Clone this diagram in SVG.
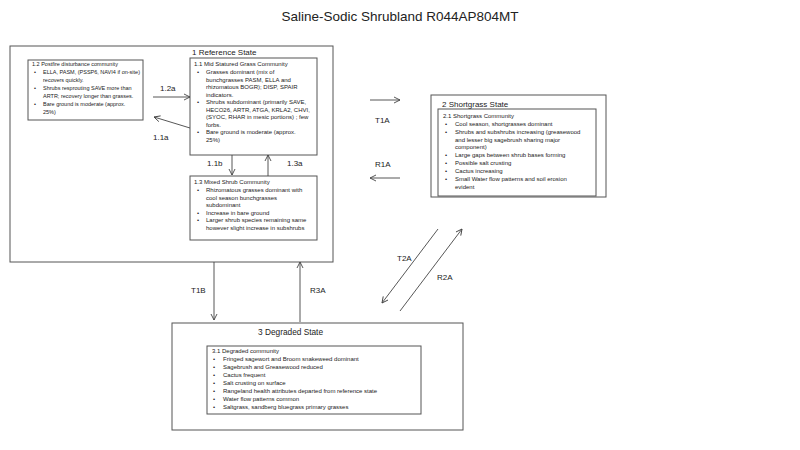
<svg xmlns="http://www.w3.org/2000/svg" width="800" height="450" viewBox="0 0 800 450">
<style>
text{font-family:"Liberation Sans",Arial,sans-serif;fill:#222}
.s{font-size:6px}
#c12 .s{font-size:5.5px}
.l{font-size:8px}
.t{font-size:13.5px}
rect{fill:#fff;stroke:#555;stroke-width:1}
.c line{stroke:#444;stroke-width:0.9}
</style>
<defs><marker id="a" markerWidth="8" markerHeight="8" refX="7" refY="4" orient="auto" markerUnits="userSpaceOnUse"><path d="M1,1 L7,4 L1,7" fill="none" stroke="#444" stroke-width="0.9"/></marker></defs>
<rect width="800" height="450" style="stroke:none"/>
<text class="t" x="400" y="21" text-anchor="middle">Saline-Sodic Shrubland R044AP804MT</text>
<g id="state1">
<rect x="10" y="46" width="323" height="216"/>
<text class="l" x="192" y="55">1 Reference State</text>
</g>
<g id="c12">
<rect x="28" y="60" width="115" height="60"/>
<text class="s" x="32" y="66">1.2 Postfire disturbance community</text>
<text class="s" x="34" y="74">•</text><text class="s" x="43" y="74">ELLA, PASM, (PSSP6, NAVI4 if on-site)</text>
<text class="s" x="43" y="82">recovers quickly.</text>
<text class="s" x="34" y="90">•</text><text class="s" x="43" y="90">Shrubs resprouting SAVE more than</text>
<text class="s" x="43" y="98">ARTR; recovery longer than grasses.</text>
<text class="s" x="34" y="106">•</text><text class="s" x="43" y="106">Bare ground is moderate (approx.</text>
<text class="s" x="43" y="114">25%)</text>
</g>
<g id="c11">
<rect x="190" y="58" width="127" height="97"/>
<text class="s" x="194" y="66">1.1 Mid Statured Grass Community</text>
<text class="s" x="197" y="74">•</text><text class="s" x="206" y="74">Grasses dominant (mix of</text>
<text class="s" x="206" y="81.5">bunchgrasses PASM, ELLA and</text>
<text class="s" x="206" y="89">rhizomatous BOGR); DISP, SPAIR</text>
<text class="s" x="206" y="96.5">indicators.</text>
<text class="s" x="197" y="104">•</text><text class="s" x="206" y="104">Shrubs subdominant (primarily SAVE,</text>
<text class="s" x="206" y="111.5">HECO26, ARTR, ATGA, KRLA2, CHVI,</text>
<text class="s" x="206" y="119">(SYOC, RHAR in mesic portions) ; few</text>
<text class="s" x="206" y="126.5">forbs.</text>
<text class="s" x="197" y="134">•</text><text class="s" x="206" y="134">Bare ground is moderate (approx.</text>
<text class="s" x="206" y="141.5">25%)</text>
</g>
<g id="c13">
<rect x="190" y="176" width="127" height="64"/>
<text class="s" x="194" y="184">1.3 Mixed Shrub Community</text>
<text class="s" x="197" y="192">•</text><text class="s" x="206" y="192">Rhizomatous grasses dominant with</text>
<text class="s" x="206" y="199.5">cool season bunchgrasses</text>
<text class="s" x="206" y="207">subdominant</text>
<text class="s" x="197" y="214.5">•</text><text class="s" x="206" y="214.5">Increase in bare ground</text>
<text class="s" x="197" y="222">•</text><text class="s" x="206" y="222">Larger shrub species remaining same</text>
<text class="s" x="206" y="229.5">however slight increase in subshrubs</text>
</g>
<g id="state2">
<rect x="431" y="95" width="175" height="102"/>
<text class="l" x="442" y="107">2 Shortgrass State</text>
<rect x="438" y="109" width="158" height="87"/>
<text class="s" x="443" y="118">2.1 Shortgrass Community</text>
<text class="s" x="445" y="126">•</text><text class="s" x="455" y="126">Cool season, shortgrasses dominant</text>
<text class="s" x="445" y="134">•</text><text class="s" x="455" y="134">Shrubs and subshrubs increasing (greasewood</text>
<text class="s" x="455" y="141.5">and lesser big sagebrush sharing major</text>
<text class="s" x="455" y="149">component)</text>
<text class="s" x="445" y="157">•</text><text class="s" x="455" y="157">Large gaps between shrub bases forming</text>
<text class="s" x="445" y="165">•</text><text class="s" x="455" y="165">Possible salt crusting</text>
<text class="s" x="445" y="173">•</text><text class="s" x="455" y="173">Cactus increasing</text>
<text class="s" x="445" y="181">•</text><text class="s" x="455" y="181">Small Water flow patterns and soil erosion</text>
<text class="s" x="455" y="189">evident</text>
</g>
<g id="state3">
<rect x="172" y="323" width="291" height="107"/>
<text x="258" y="335" style="font-size:8.3px">3 Degraded State</text>
<rect x="207" y="346" width="214" height="68"/>
<text class="s" x="212" y="353">3.1 Degraded community</text>
<text class="s" x="213" y="361">•</text><text class="s" x="223" y="361">Fringed sagewort and Broom snakeweed dominant</text>
<text class="s" x="213" y="369">•</text><text class="s" x="223" y="369">Sagebrush and Greasewood reduced</text>
<text class="s" x="213" y="377">•</text><text class="s" x="223" y="377">Cactus frequent</text>
<text class="s" x="213" y="385">•</text><text class="s" x="223" y="385">Salt crusting on surface</text>
<text class="s" x="213" y="393">•</text><text class="s" x="223" y="393">Rangeland health attributes departed from reference state</text>
<text class="s" x="213" y="401">•</text><text class="s" x="223" y="401">Water flow patterns common</text>
<text class="s" x="213" y="409">•</text><text class="s" x="223" y="409">Saltgrass, sandberg bluegrass primary grasses</text>
</g>
<g class="c" id="connectors">
<line x1="153" y1="97" x2="190" y2="97" marker-end="url(#a)"/>
<line x1="190" y1="128" x2="154" y2="117" marker-end="url(#a)"/>
<line x1="232" y1="155" x2="232" y2="175" marker-end="url(#a)"/>
<line x1="268" y1="176" x2="268" y2="155" marker-end="url(#a)"/>
<line x1="370" y1="100" x2="400" y2="100" marker-end="url(#a)"/>
<line x1="400" y1="178" x2="370" y2="178" marker-end="url(#a)"/>
<line x1="438" y1="229" x2="382" y2="303" marker-end="url(#a)"/>
<line x1="400" y1="311" x2="462" y2="229" marker-end="url(#a)"/>
<line x1="214" y1="262" x2="214" y2="320" marker-end="url(#a)"/>
<line x1="300" y1="322" x2="300" y2="262" marker-end="url(#a)"/>
</g>
<g id="labels">
<text class="l" x="160" y="91">1.2a</text>
<text class="l" x="153" y="140">1.1a</text>
<text class="l" x="207" y="166">1.1b</text>
<text class="l" x="287" y="166">1.3a</text>
<text class="l" x="375" y="123">T1A</text>
<text class="l" x="375" y="167">R1A</text>
<text class="l" x="397" y="261">T2A</text>
<text class="l" x="437" y="280">R2A</text>
<text class="l" x="191" y="293">T1B</text>
<text class="l" x="310" y="293">R3A</text>
</g>
</svg>
